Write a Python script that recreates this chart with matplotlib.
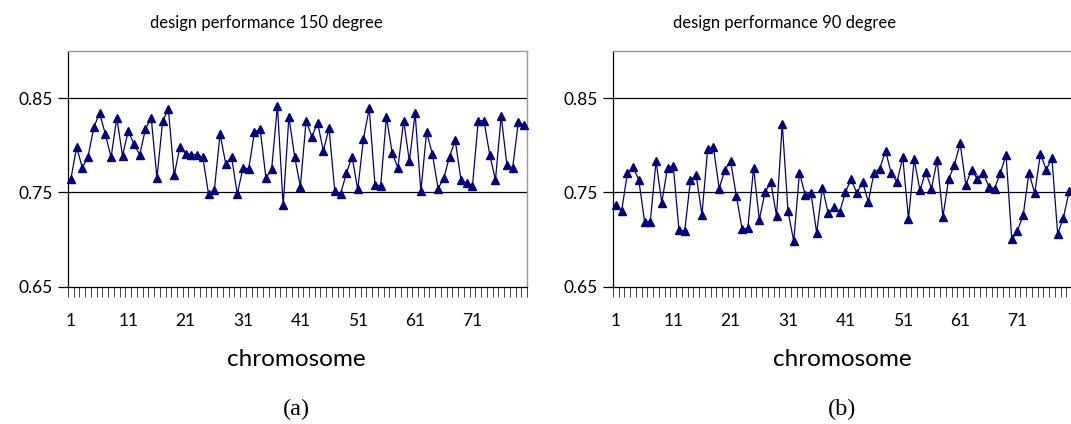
import matplotlib
matplotlib.use("Agg")
import matplotlib.pyplot as plt
import numpy as np

chromosomes = list(range(1, 81))

perf_150 = [0.764, 0.798, 0.776, 0.788, 0.819, 0.834, 0.812, 0.787, 0.829, 0.789,
            0.815, 0.801, 0.790, 0.817, 0.829, 0.765, 0.826, 0.838, 0.768, 0.798,
            0.791, 0.790, 0.790, 0.787, 0.748, 0.752, 0.812, 0.780, 0.788, 0.748,
            0.776, 0.775, 0.814, 0.817, 0.765, 0.775, 0.842, 0.736, 0.830, 0.788,
            0.756, 0.826, 0.809, 0.824, 0.794, 0.818, 0.751, 0.748, 0.770, 0.788,
            0.753, 0.807, 0.839, 0.758, 0.757, 0.830, 0.792, 0.776, 0.826, 0.783,
            0.834, 0.751, 0.814, 0.791, 0.754, 0.765, 0.788, 0.805, 0.763, 0.760,
            0.757, 0.826, 0.826, 0.790, 0.763, 0.831, 0.779, 0.776, 0.825, 0.821]

perf_90 = [0.736, 0.730, 0.770, 0.777, 0.763, 0.719, 0.719, 0.783, 0.739, 0.776,
           0.778, 0.710, 0.709, 0.763, 0.768, 0.726, 0.796, 0.798, 0.754, 0.774,
           0.783, 0.746, 0.711, 0.712, 0.776, 0.721, 0.750, 0.761, 0.725, 0.823,
           0.730, 0.698, 0.771, 0.747, 0.749, 0.707, 0.755, 0.728, 0.734, 0.729,
           0.750, 0.764, 0.749, 0.761, 0.740, 0.771, 0.775, 0.794, 0.770, 0.761,
           0.787, 0.722, 0.785, 0.752, 0.772, 0.754, 0.784, 0.724, 0.764, 0.779,
           0.802, 0.758, 0.774, 0.764, 0.771, 0.756, 0.754, 0.770, 0.790, 0.700,
           0.709, 0.726, 0.771, 0.749, 0.791, 0.774, 0.786, 0.706, 0.723, 0.751]

x_tick_labels = ["1", "11", "21", "31", "41", "51", "61", "71"]
y_ticks = [0.65, 0.75, 0.85]
y_tick_labels = ["0.65", "0.75", "0.85"]
titles = ["design performance 150 degree", "design performance 90 degree"]
x_label = "chromosome"
panel_labels = ["(a)", "(b)"]

W, H = 1071, 424
fig = plt.figure(figsize=(W / 100, H / 100), dpi=100)

SANS = ["Lato", "DejaVu Sans"]
SERIF = ["Liberation Serif", "DejaVu Serif"]

def px_rect(x0, y0, x1, y1):
    return [x0 / W, 1 - y1 / H, (x1 - x0) / W, (y1 - y0) / H]

panels = [
    (perf_150, px_rect(68, 51, 527, 286.5), 266, 296),
    (perf_90, px_rect(613, 51, 1072, 286.5), 785, 842),
]

for i, (vals, rect, title_cx, label_cx) in enumerate(panels):
    ax = fig.add_axes(rect)
    ax.plot(chromosomes, vals, color="#000080", lw=0.9, marker="^",
            markersize=5.5, markerfacecolor="#000080", markeredgecolor="#000080",
            clip_on=False, zorder=3)
    ax.set_xlim(0.5, 80.5)
    ax.set_ylim(0.65, 0.90)
    ax.set_yticks(y_ticks)
    ax.set_yticklabels(y_tick_labels, fontsize=12.5, family=SANS)
    for y in y_ticks[1:]:
        ax.axhline(y, color="black", lw=0.9, zorder=1)
    label_pos = [int(t) for t in x_tick_labels]
    ax.set_xticks(label_pos)
    ax.set_xticklabels(x_tick_labels, fontsize=12.5, family=SANS)
    ax.set_xticks(np.arange(0.5, 81, 1.0), minor=True)
    ax.tick_params(axis="x", which="major", length=0, pad=19)
    ax.tick_params(axis="x", which="minor", length=7, width=0.7, color="#444444", direction="out")
    ax.tick_params(axis="y", which="major", length=7, width=0.9, direction="out", pad=4)
    for s in ["top", "right"]:
        ax.spines[s].set_color("#999999")
        ax.spines[s].set_linewidth(1.0)
    for s in ["left", "bottom"]:
        ax.spines[s].set_color("black")
        ax.spines[s].set_linewidth(0.9)
    fig.text(title_cx / W, 1 - 28 / H, titles[i], ha="center", va="baseline",
             fontsize=12, family=SANS)
    fig.text(label_cx / W, 1 - 366 / H, x_label, ha="center", va="baseline",
             fontsize=17.5, family=SANS)
    fig.text(label_cx / W, 1 - 415 / H, panel_labels[i], ha="center", va="baseline",
             fontsize=17.5, family=SERIF)

fig.savefig("out.png", dpi=100)
